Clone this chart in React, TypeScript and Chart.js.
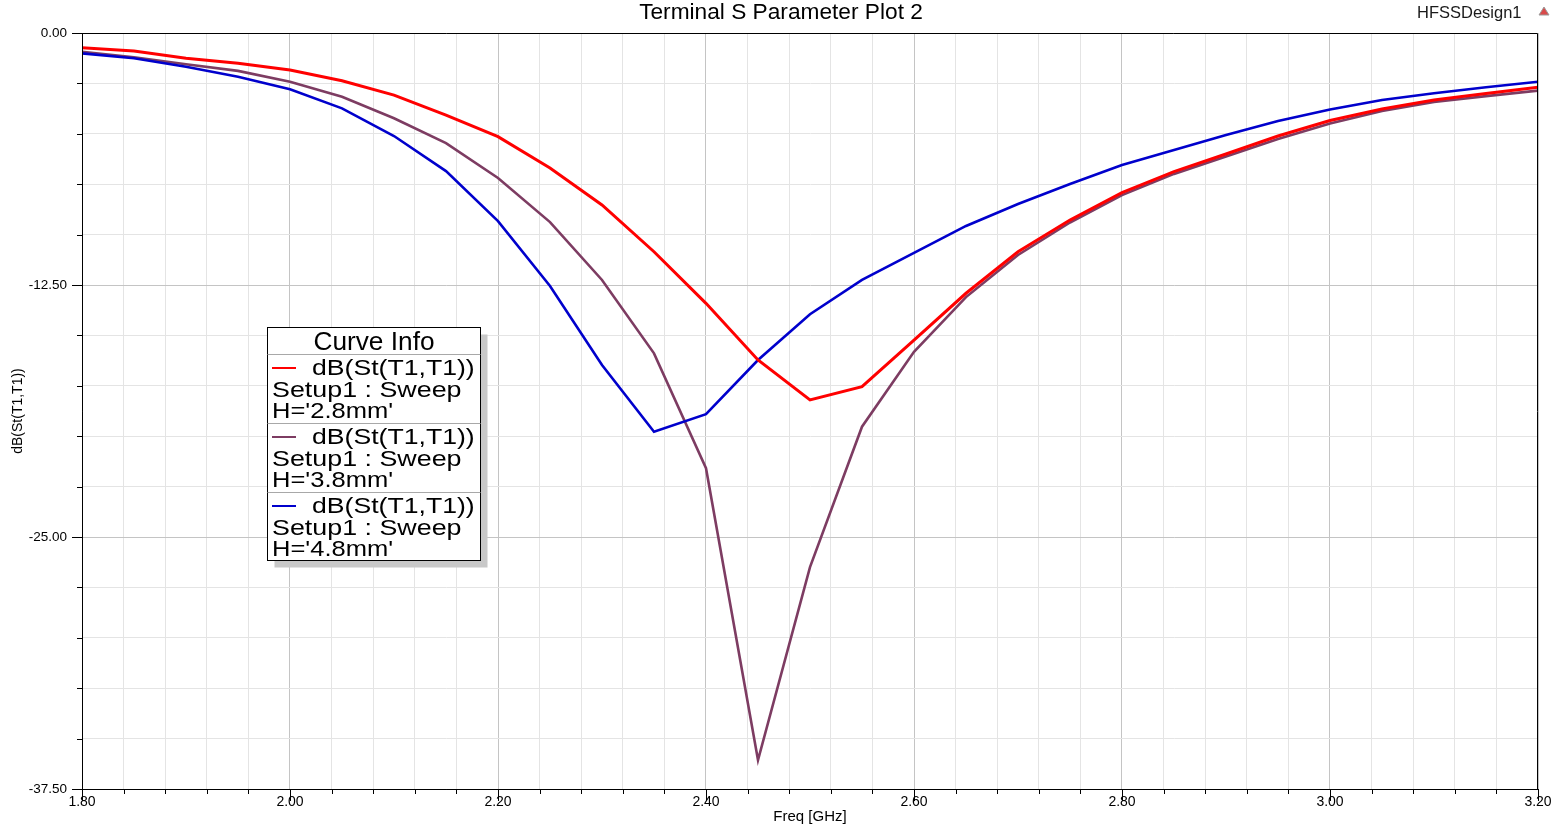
import React, { useEffect, useRef } from 'react';
import { Chart, registerables } from 'chart.js';

Chart.register(...registerables);

// ---------- data ----------
const FREQ_GHZ = [
  1.8, 1.85, 1.9, 1.95, 2.0, 2.05, 2.1, 2.15, 2.2, 2.25, 2.3, 2.35, 2.4, 2.45, 2.5,
  2.55, 2.6, 2.65, 2.7, 2.75, 2.8, 2.85, 2.9, 2.95, 3.0, 3.05, 3.1, 3.15, 3.2,
];
const S11_H28 = [
  -0.73, -0.89, -1.25, -1.5, -1.84, -2.37, -3.08, -4.07, -5.14, -6.7, -8.53, -10.85, -13.41, -16.22, -18.2,
  -17.54, -15.23, -12.91, -10.85, -9.28, -7.92, -6.88, -6.0, -5.11, -4.34, -3.77, -3.32, -3.0, -2.69,
];
const S11_H38 = [
  -0.93, -1.21, -1.55, -1.88, -2.42, -3.16, -4.23, -5.46, -7.19, -9.38, -12.25, -15.89, -21.59, -36.06, -26.49,
  -19.53, -15.81, -13.1, -11.01, -9.4, -8.04, -6.99, -6.13, -5.26, -4.49, -3.87, -3.42, -3.13, -2.86,
];
const S11_H48 = [
  -1.01, -1.25, -1.67, -2.17, -2.79, -3.74, -5.11, -6.85, -9.33, -12.55, -16.47, -19.78, -18.91, -16.22, -13.95,
  -12.25, -10.91, -9.57, -8.48, -7.49, -6.55, -5.8, -5.06, -4.37, -3.79, -3.32, -2.99, -2.69, -2.42,
];
const SERIES_NAMES = ["H='2.8mm'", "H='3.8mm'", "H='4.8mm'"];
const X_LABEL_VALUES = [1.8, 2.0, 2.2, 2.4, 2.6, 2.8, 3.0, 3.2];
const Y_LABEL_VALUES = [0, -12.5, -25, -37.5];
const MINOR_DIVISIONS = 5;

const TITLE = 'Terminal S Parameter Plot 2';
const DESIGN_NAME = 'HFSSDesign1';
const X_TITLE = 'Freq [GHz]';
const Y_TITLE = 'dB(St(T1,T1))';
const LEGEND_TITLE = 'Curve Info';
const LEGEND_EXPR = 'dB(St(T1,T1))';
const LEGEND_SETUP = 'Setup1 : Sweep';

// ---------- styles ----------
const COLORS = ['#ff0000', '#7d3c62', '#0000cc'];
const FONT = '"Liberation Sans", Arial, "DejaVu Sans", sans-serif';
const GRID_MAJOR = '#c4c4c4';
const GRID_MINOR = '#e4e4e4';

function subdivide(majors: number[], n: number): number[] {
  const sorted = [...majors].sort((a, b) => a - b);
  const out: number[] = [];
  for (let i = 0; i < sorted.length - 1; i++) {
    const a = sorted[i];
    const b = sorted[i + 1];
    for (let k = 0; k < n; k++) out.push(+(a + ((b - a) * k) / n).toFixed(6));
  }
  out.push(sorted[sorted.length - 1]);
  return out;
}
const X_TICKS = subdivide(X_LABEL_VALUES, MINOR_DIVISIONS);
const Y_TICKS = subdivide(Y_LABEL_VALUES, MINOR_DIVISIONS);

const isIn = (list: number[], v: number) => list.some((m) => Math.abs(m - v) < 1e-6);
const fmt = (v: number) => (Math.abs(v) < 1e-9 ? 0 : v).toFixed(2);

function stretchedText(ctx: CanvasRenderingContext2D, text: string, x: number, y: number, sx: number) {
  ctx.save();
  ctx.translate(x, y);
  ctx.scale(sx, 1);
  ctx.fillText(text, 0, 0);
  ctx.restore();
}

const hfssPlugin = {
  id: 'hfssDecor',
  afterDraw(chart: any) {
    const { ctx, chartArea: a, scales } = chart;
    const xs = scales.x;
    const ys = scales.y;
    ctx.save();

    // tick marks
    ctx.strokeStyle = '#000';
    ctx.lineWidth = 1;
    ctx.beginPath();
    for (const t of ys.ticks) {
      const y = Math.round(ys.getPixelForValue(t.value)) + 0.5;
      const len = isIn(Y_LABEL_VALUES, t.value) ? 10 : 5;
      ctx.moveTo(a.left - len, y);
      ctx.lineTo(a.left, y);
    }
    for (const t of xs.ticks) {
      const x = Math.round(xs.getPixelForValue(t.value)) + 0.5;
      const len = isIn(X_LABEL_VALUES, t.value) ? 12 : 5;
      ctx.moveTo(x, a.bottom);
      ctx.lineTo(x, a.bottom + len);
    }
    ctx.stroke();

    // frame
    ctx.beginPath();
    ctx.rect(Math.round(a.left) + 0.5, Math.round(a.top) + 0.5, Math.round(a.right - a.left) - 1, Math.round(a.bottom - a.top));
    ctx.stroke();

    // title & design name
    ctx.fillStyle = '#000';
    ctx.textBaseline = 'alphabetic';
    ctx.textAlign = 'center';
    ctx.font = `22.7px ${FONT}`;
    ctx.fillText(TITLE, 781, 19);
    ctx.textAlign = 'left';
    ctx.font = `16.5px ${FONT}`;
    ctx.fillStyle = '#1a1a1a';
    ctx.fillText(DESIGN_NAME, 1417, 17.5);

    // small triangle icon
    ctx.beginPath();
    ctx.moveTo(1544, 7);
    ctx.lineTo(1549, 15);
    ctx.lineTo(1539, 15);
    ctx.closePath();
    ctx.fillStyle = '#d94a4a';
    ctx.fill();
    ctx.strokeStyle = '#9a9a9a';
    ctx.stroke();

    // legend box
    const L = 267.5, T = 327.5, W = 213, H = 233;
    ctx.fillStyle = '#c8c8c8';
    ctx.fillRect(L + 7, T + 7, W, H);
    ctx.fillStyle = '#ffffff';
    ctx.fillRect(L, T, W, H);
    ctx.strokeStyle = '#000';
    ctx.lineWidth = 1;
    ctx.strokeRect(L, T, W, H);

    ctx.fillStyle = '#000';
    ctx.textAlign = 'left';
    ctx.font = `25px ${FONT}`;
    const tw = ctx.measureText(LEGEND_TITLE).width * 1.05;
    stretchedText(ctx, LEGEND_TITLE, 374 - tw / 2, 350, 1.05);

    const sections = [354, 423, 492];
    ctx.font = `22px ${FONT}`;
    sections.forEach((s, i) => {
      ctx.strokeStyle = '#a8a8a8';
      ctx.lineWidth = 1;
      ctx.beginPath();
      ctx.moveTo(L, s + 0.5);
      ctx.lineTo(L + W, s + 0.5);
      ctx.stroke();

      ctx.strokeStyle = COLORS[i];
      ctx.lineWidth = 2;
      ctx.beginPath();
      ctx.moveTo(272, s + 14);
      ctx.lineTo(296, s + 14);
      ctx.stroke();

      ctx.fillStyle = '#000';
      stretchedText(ctx, LEGEND_EXPR, 312, s + 21, 1.21);
      stretchedText(ctx, LEGEND_SETUP, 272, s + 42.5, 1.22);
      stretchedText(ctx, SERIES_NAMES[i], 272, s + 63.5, 1.16);
    });

    ctx.restore();
  },
};

export default function App() {
  const ref = useRef<HTMLCanvasElement | null>(null);

  useEffect(() => {
    if (!ref.current) return;
    const mk = (vals: number[]) => FREQ_GHZ.map((x, i) => ({ x, y: vals[i] }));
    const gridColor = (c: any) => {
      const v = c.tick ? c.tick.value : 0;
      const isX = c.scale && c.scale.axis === 'x';
      return isIn(isX ? X_LABEL_VALUES : Y_LABEL_VALUES, v) ? GRID_MAJOR : GRID_MINOR;
    };
    const chart = new Chart(ref.current, {
      type: 'line',
      data: {
        datasets: [
          { label: SERIES_NAMES[0], data: mk(S11_H28), borderColor: COLORS[0], backgroundColor: COLORS[0], borderWidth: 3, pointRadius: 0, tension: 0, order: 0 },
          { label: SERIES_NAMES[1], data: mk(S11_H38), borderColor: COLORS[1], backgroundColor: COLORS[1], borderWidth: 2.6, pointRadius: 0, tension: 0, order: 2 },
          { label: SERIES_NAMES[2], data: mk(S11_H48), borderColor: COLORS[2], backgroundColor: COLORS[2], borderWidth: 2.6, pointRadius: 0, tension: 0, order: 1 },
        ],
      },
      options: {
        responsive: false,
        animation: false,
        events: [],
        layout: { padding: { top: 33, right: 27, left: 0, bottom: 0 } },
        plugins: { legend: { display: false }, title: { display: false }, tooltip: { enabled: false } },
        scales: {
          x: {
            type: 'linear',
            position: 'bottom',
            min: 1.8,
            max: 3.2,
            afterBuildTicks: (s: any) => { s.ticks = X_TICKS.map((value) => ({ value })); },
            afterFit: (s: any) => { s.height = 42; },
            ticks: {
              autoSkip: false,
              maxRotation: 0,
              padding: 5,
              color: '#000',
              font: { family: FONT, size: 14 },
              callback: (v: any) => (isIn(X_LABEL_VALUES, Number(v)) ? fmt(Number(v)) : ''),
            },
            grid: { color: gridColor, lineWidth: 1, drawTicks: false },
            border: { display: true, color: '#000', width: 1 },
            title: { display: true, text: X_TITLE, color: '#000', font: { family: FONT, size: 15 }, padding: { top: 0, bottom: 5.5 } },
          },
          y: {
            type: 'linear',
            position: 'left',
            min: -37.5,
            max: 0,
            afterBuildTicks: (s: any) => { s.ticks = Y_TICKS.map((value) => ({ value })); },
            afterFit: (s: any) => { s.width = 82; },
            ticks: {
              autoSkip: false,
              padding: 15,
              color: '#000',
              font: { family: FONT, size: 13.5 },
              callback: (v: any) => (isIn(Y_LABEL_VALUES, Number(v)) ? fmt(Number(v)) : ''),
            },
            grid: { color: gridColor, lineWidth: 1, drawTicks: false },
            border: { display: true, color: '#000', width: 1 },
            title: { display: true, text: Y_TITLE, color: '#000', font: { family: FONT, size: 14 }, padding: { top: 10, bottom: 0 } },
          },
        },
      },
      plugins: [hfssPlugin],
    } as any);
    return () => chart.destroy();
  }, []);

  return (
    <div style={{ position: 'fixed', left: 0, top: 0, width: 1565, height: 831, background: '#fff' }}>
      <canvas ref={ref} width={1565} height={831} style={{ display: 'block' }} />
    </div>
  );
}
